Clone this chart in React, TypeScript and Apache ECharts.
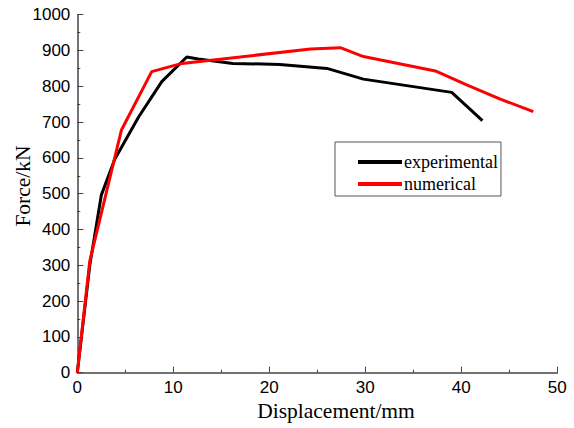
import React, { useEffect, useRef } from "react";
import * as echarts from "echarts";

const expX = [0, 1.3, 2.5, 3.9, 6.4, 8.8, 11.4, 12.6, 16.2, 21.1, 26.0, 29.8, 39.0, 42.2];
const expY = [0, 300, 496, 596, 715, 813, 882, 876, 864, 861, 850, 820, 783, 704];

const numX = [0, 1.3, 4.6, 7.75, 10.9, 24.3, 27.4, 29.8, 37.3, 40.5, 44.0, 47.5];
const numY = [0, 312, 678, 841, 864, 904, 908, 883, 843, 805, 765, 729];

const xTicks = [0, 10, 20, 30, 40, 50];
const yTicks = [0, 100, 200, 300, 400, 500, 600, 700, 800, 900, 1000];

const seriesNames = ["experimental", "numerical"];
const axisNames = ["Displacement/mm", "Force/kN"];

export default function App() {
  const ref = useRef<HTMLDivElement>(null);
  useEffect(() => {
    if (!ref.current) return;
    const chart = echarts.init(ref.current, undefined, { renderer: "svg" });
    const axisColor = "#444";
    const serif = "'Liberation Serif', 'Times New Roman', serif";
    const sans = "'Liberation Sans', Arial, sans-serif";
    chart.setOption({
      animation: false,
      backgroundColor: "#fff",
      grid: { left: 77.3, right: 16.7, top: 14.7, bottom: 55.3, containLabel: false },
      xAxis: {
        type: "value",
        min: xTicks[0],
        max: xTicks[xTicks.length - 1],
        interval: 10,
        splitLine: { show: false },
        axisLine: { show: true, lineStyle: { color: axisColor, width: 1.5 } },
        axisTick: { show: true, inside: true, length: 6, lineStyle: { color: axisColor, width: 1 } },
        minorTick: { show: true, splitNumber: 2, length: 3, lineStyle: { color: axisColor, width: 1 } },
        minorSplitLine: { show: false },
        axisLabel: { color: "#000", fontSize: 17, fontFamily: sans, margin: 6, formatter: (v: number) => String(v) },
      },
      yAxis: {
        type: "value",
        min: yTicks[0],
        max: yTicks[yTicks.length - 1],
        interval: 100,
        splitLine: { show: false },
        axisLine: { show: true, lineStyle: { color: axisColor, width: 1.5 } },
        axisTick: { show: true, inside: true, length: 6, lineStyle: { color: axisColor, width: 1 } },
        minorTick: { show: true, splitNumber: 2, length: 3, lineStyle: { color: axisColor, width: 1 } },
        minorSplitLine: { show: false },
        axisLabel: { color: "#000", fontSize: 17, fontFamily: sans, margin: 7, formatter: (v: number) => String(v) },
      },
      legend: {
        show: true,
        orient: "vertical",
        left: 335,
        top: 142,
        padding: [11, 3, 3, 23],
        itemGap: 4,
        itemWidth: 44,
        itemHeight: 4,
        borderColor: "#555",
        borderWidth: 1,
        backgroundColor: "#fff",
        textStyle: { fontFamily: serif, fontSize: 18, color: "#000", padding: [0, 0, 0, -3] },
        data: seriesNames.map((n) => ({ name: n, icon: "rect" })),
        itemStyle: { borderWidth: 0 },
      },
      graphic: [
        {
          type: "text",
          x: 336,
          y: 411,
          style: {
            text: axisNames[0],
            fontFamily: serif,
            fontSize: 21.5,
            fill: "#000",
            align: "center",
            verticalAlign: "middle",
          },
        },
        {
          type: "text",
          x: 23,
          y: 186,
          rotation: Math.PI / 2,
          style: {
            text: axisNames[1],
            fontFamily: serif,
            fontSize: 21.5,
            fill: "#000",
            align: "center",
            verticalAlign: "middle",
          },
        },
      ],
      series: [
        {
          name: seriesNames[0],
          type: "line",
          data: expX.map((x, i) => [x, expY[i]]),
          symbol: "none",
          lineStyle: { color: "#000", width: 3 },
          itemStyle: { color: "#000" },
          z: 3,
        },
        {
          name: seriesNames[1],
          type: "line",
          data: numX.map((x, i) => [x, numY[i]]),
          symbol: "none",
          lineStyle: { color: "#ff0000", width: 3 },
          itemStyle: { color: "#ff0000" },
          z: 4,
        },
      ],
    });
    return () => chart.dispose();
  }, []);
  return (
    <div
      ref={ref}
      style={{ position: "fixed", left: 0, top: 0, width: 574, height: 428, background: "#fff" }}
    />
  );
}
